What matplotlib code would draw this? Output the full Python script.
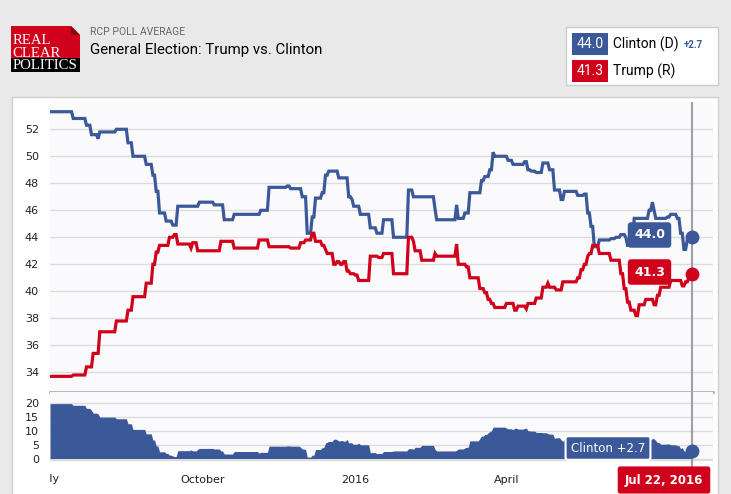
import numpy as np
import pandas as pd
import matplotlib
matplotlib.use("Agg")
import matplotlib.pyplot as plt
from matplotlib.patches import Rectangle, Polygon
from matplotlib.transforms import Bbox, TransformedBbox, blended_transform_factory

# Daten: RCP-Durchschnitt, Tage seit 1. Juli 2015 (Wert gilt ab diesem Tag)
start = pd.Timestamp("2015-07-01")
end = pd.Timestamp("2016-07-22")

clinton_days = [0, 14, 22, 25, 29, 30, 40, 47, 50, 58, 62, 64, 66, 70, 74, 77, 90, 99,
                105, 111, 127, 132, 143, 145, 152, 155, 158, 160, 164, 166, 168, 174,
                180, 182, 183, 187, 193, 197, 201, 207, 216, 219, 232, 233, 245, 246,
                250, 253, 260, 262, 265, 267, 268, 276, 279, 286, 288, 290, 293, 297,
                301, 304, 308, 310, 318, 322, 324, 326, 328, 331, 338, 341, 344, 347,
                348, 352, 361, 363, 364, 365, 372, 374, 378, 380, 382, 384, 386]
clinton_vals = [53.3, 52.8, 52.3, 51.6, 51.3, 51.8, 52.0, 51.0, 50.0, 49.4, 48.6, 47.4,
                45.8, 45.2, 44.9, 46.3, 46.6, 46.4, 45.3, 45.7, 46.0, 47.7, 47.8, 47.6,
                47.0, 44.3, 45.5, 46.9, 47.3, 48.6, 48.9, 48.4, 47.0, 46.8, 46.3, 45.7,
                44.7, 44.3, 45.3, 44.0, 47.5, 47.0, 46.1, 45.3, 46.4, 45.4, 45.8, 47.3,
                48.2, 48.5, 49.0, 50.3, 50.0, 49.7, 49.4, 49.6, 49.0, 48.9, 48.8, 49.5,
                49.0, 47.5, 46.8, 47.4, 47.1, 47.2, 45.8, 44.8, 43.3, 43.8, 43.9, 44.0,
                44.2, 44.0, 43.4, 45.4, 46.0, 46.6, 46.0, 45.4, 45.5, 45.7, 45.4, 44.3,
                43.1, 43.8, 44.0]

trump_days = [0, 14, 22, 26, 30, 40, 47, 50, 58, 62, 64, 66, 72, 75, 77, 85, 86, 89,
              103, 111, 126, 132, 145, 151, 154, 158, 160, 164, 166, 167, 171, 173, 175,
              177, 179, 181, 184, 186, 193, 198, 201, 207, 216, 219, 220, 224, 232, 233,
              245, 246, 251, 253, 259, 262, 264, 266, 268, 275, 280, 282, 287, 288, 293,
              297, 300, 301, 305, 309, 318, 320, 322, 324, 325, 327, 331, 338, 344, 346,
              348, 350, 353, 355, 359, 364, 366, 368, 374, 381, 383, 385, 387]
trump_vals = [33.7, 33.8, 34.4, 35.4, 37.0, 37.8, 38.6, 39.6, 40.6, 42.0, 42.9, 43.4,
              44.0, 44.2, 43.5, 43.2, 43.6, 43.0, 43.7, 43.2, 43.8, 43.3, 43.2, 43.6,
              43.8, 44.3, 43.7, 43.4, 43.1, 42.8, 42.0, 42.2, 42.0, 42.2, 41.5, 41.3,
              41.2, 40.8, 42.6, 42.5, 42.8, 41.3, 44.0, 43.7, 43.0, 42.3, 42.8, 42.6,
              43.5, 42.0, 41.8, 41.0, 40.2, 39.9, 39.4, 39.1, 38.8, 39.1, 38.6, 38.9,
              38.7, 39.1, 39.5, 40.3, 40.6, 40.3, 40.1, 40.7, 41.0, 41.6, 42.0, 42.6,
              42.8, 43.4, 42.8, 42.3, 41.3, 40.2, 39.2, 38.6, 38.2, 39.0, 39.4, 39.0,
              39.7, 40.3, 40.8, 40.4, 40.7, 41.0, 41.3]

tick_dates = ["2015-07-01", "2015-10-01", "2016-01-01", "2016-04-01"]
tick_labels = ["July", "October", "2016", "April"]

BLUE = "#3b5998"
RED = "#d0021b"
W, H = 731, 494

plt.rcParams["font.family"] = ["DejaVu Sans"]


def fx(x):
    return x / W


def fy(y):
    return 1 - y / H


def step_series(days, bp_days, bp_vals):
    idx = np.searchsorted(bp_days, days, side="right") - 1
    return np.asarray(bp_vals)[idx]


n_days = (end - start).days
days = np.arange(0, n_days + 1)
clinton = step_series(days, clinton_days, clinton_vals)
trump = step_series(days, trump_days, trump_vals)
spread = clinton - trump
tick_pos = [(pd.Timestamp(d) - start).days for d in tick_dates]

fig = plt.figure(figsize=(W / 100, H / 100), dpi=100, facecolor="#e9e9e9")

# Panel hinter den Achsen
fig.patches.append(Rectangle((fx(12), fy(500)), fx(706), 403 / H, transform=fig.transFigure,
                             facecolor="white", edgecolor="#d0d0d0", lw=1, zorder=-5))

# Logo
fig.patches.append(Rectangle((fx(11), fy(58)), fx(69), 32 / H, transform=fig.transFigure,
                             facecolor=RED, edgecolor="none", zorder=-4))
fig.patches.append(Rectangle((fx(11), fy(72)), fx(69), 14 / H, transform=fig.transFigure,
                             facecolor="black", edgecolor="none", zorder=-4))
fig.patches.append(Polygon([(fx(71), fy(26)), (fx(80), fy(26)), (fx(80), fy(35))],
                           transform=fig.transFigure, facecolor="#e9e9e9", edgecolor="none",
                           zorder=-3))
fig.patches.append(Polygon([(fx(71), fy(26)), (fx(80), fy(35)), (fx(71), fy(35))],
                           transform=fig.transFigure, facecolor="#8e0012", edgecolor="none",
                           zorder=-3))
fig.text(fx(12.5), fy(72), "REAL\nCLEAR\nPOLITICS", color="white", fontsize=10.6,
         family="Liberation Serif", va="bottom", ha="left", linespacing=0.93)

fig.text(fx(90), fy(32), "RCP POLL AVERAGE", color="#666666", fontsize=7.5,
         family="Roboto", va="center")
fig.text(fx(90), fy(50), "General Election: Trump vs. Clinton", color="black",
         fontsize=10.8, family="Roboto", va="center")

# Legende
fig.patches.append(Rectangle((fx(566), fy(85)), fx(152), 58 / H, transform=fig.transFigure,
                             facecolor="white", edgecolor="#cccccc", lw=1, zorder=-4))
for y0, col, val, name in [(33, BLUE, clinton[-1], "Clinton (D)"), (60, RED, trump[-1], "Trump (R)")]:
    fig.patches.append(Rectangle((fx(572), fy(y0 + 22)), fx(36), 22 / H,
                                 transform=fig.transFigure, facecolor=col, edgecolor="none",
                                 zorder=-3))
    fig.text(fx(590), fy(y0 + 11), f"{val:.1f}", color="white", fontsize=10,
             family="Roboto", ha="center", va="center")
    fig.text(fx(613), fy(y0 + 11), name, color="black", fontsize=10,
             family="Roboto", va="center")
fig.text(fx(684), fy(45), f"+{spread[-1]:.1f}", color=BLUE, fontsize=7,
         family="Roboto", weight="bold", va="center")

# Hauptchart
ax = fig.add_axes([fx(50), fy(392), fx(663), 290 / H])
ax.set_facecolor("#fafafd")
ax.plot(days, clinton, color=BLUE, lw=2.3, zorder=3, solid_joinstyle="miter")
ax.plot(days, trump, color=RED, lw=2.3, zorder=3, solid_joinstyle="miter")
ax.plot(days[-1], clinton[-1], "o", color=BLUE, ms=9, zorder=5)
ax.plot(days[-1], trump[-1], "o", color=RED, ms=9, zorder=5)
ax.set_xlim(0, 399.5)
ax.set_ylim(32.54, 54.02)
ax.set_yticks(np.arange(34, 53, 2))
ax.set_xticks([])
ax.grid(axis="y", color="#dcdcdc", lw=1)
ax.set_axisbelow(True)
ax.tick_params(axis="y", length=0, pad=8, labelsize=8, labelcolor="#222222")
for s in ["top", "left", "right"]:
    ax.spines[s].set_visible(False)
ax.spines["bottom"].set_color("#b0b0b0")
ax.spines["bottom"].set_linewidth(2)
ax.axvline(days[-1], color="#a0a0a0", lw=1.5, zorder=2)

for val, col, yy in [(clinton[-1], BLUE, 235), (trump[-1], RED, 272)]:
    fig.text(fx(649.5), fy(yy), f"{val:.1f}", color="white", fontsize=9, weight="bold",
             ha="center", va="center", zorder=6,
             bbox=dict(boxstyle="round,pad=0.5,rounding_size=0.25", fc=col, ec="none"))

# Spread-Panel
ax2 = fig.add_axes([fx(50), fy(462), fx(663), 70 / H])
ax2.set_facecolor("#fafafd")
ax2.fill_between(days, 0, spread, color=BLUE, lw=0, zorder=3)
ax2.plot(days[-1], spread[-1], "o", color=BLUE, ms=9, zorder=5)
ax2.set_xlim(0, 399.5)
ax2.set_ylim(-1.25, 23.75)
ax2.set_yticks([0, 5, 10, 15, 20])
ax2.grid(axis="y", color="#dcdcdc", lw=1)
ax2.axhline(-0.6, color="#dcdcdc", lw=1.5, zorder=1)
ax2.set_axisbelow(True)
for s in ax2.spines.values():
    s.set_visible(False)
ax2.tick_params(axis="y", length=0, pad=8, labelsize=8, labelcolor="#222222")
ax2.tick_params(axis="x", length=0, pad=9, labelsize=8, labelcolor="#222222")
ax2.set_xticks(tick_pos[1:])
ax2.set_xticklabels(tick_labels[1:])
ax2.axvline(days[-1], color="#a0a0a0", lw=1.5, zorder=2)
ax2.plot([days[-1], days[-1]], [-1.25, -3.0], color="#a0a0a0", lw=1.5, clip_on=False)

# erster Monat, am Plotrand abgeschnitten
tr = blended_transform_factory(ax2.transData, fig.transFigure)
jl = ax2.text(tick_pos[0], fy(479), tick_labels[0], transform=tr, fontsize=8,
              color="#222222", ha="center", va="center", clip_on=True)
jl.set_clip_box(TransformedBbox(Bbox([[fx(50), 0], [1, 1]]), fig.transFigure))

fig.text(fx(608), fy(448), f"Clinton +{spread[-1]:.1f}", color="white", fontsize=8.5,
         ha="center", va="center", zorder=6,
         bbox=dict(boxstyle="round,pad=0.45,rounding_size=0.2", fc=BLUE, ec="white", lw=1.5))

fig.text(fx(664), fy(480), end.strftime("%b %d, %Y").replace(" 0", " "), color="white",
         fontsize=8.5, weight="bold", ha="center", va="center", zorder=6,
         bbox=dict(boxstyle="round,pad=0.6,rounding_size=0.2", fc=RED, ec="none"))

fig.savefig("out.png", dpi=100, facecolor=fig.get_facecolor())
